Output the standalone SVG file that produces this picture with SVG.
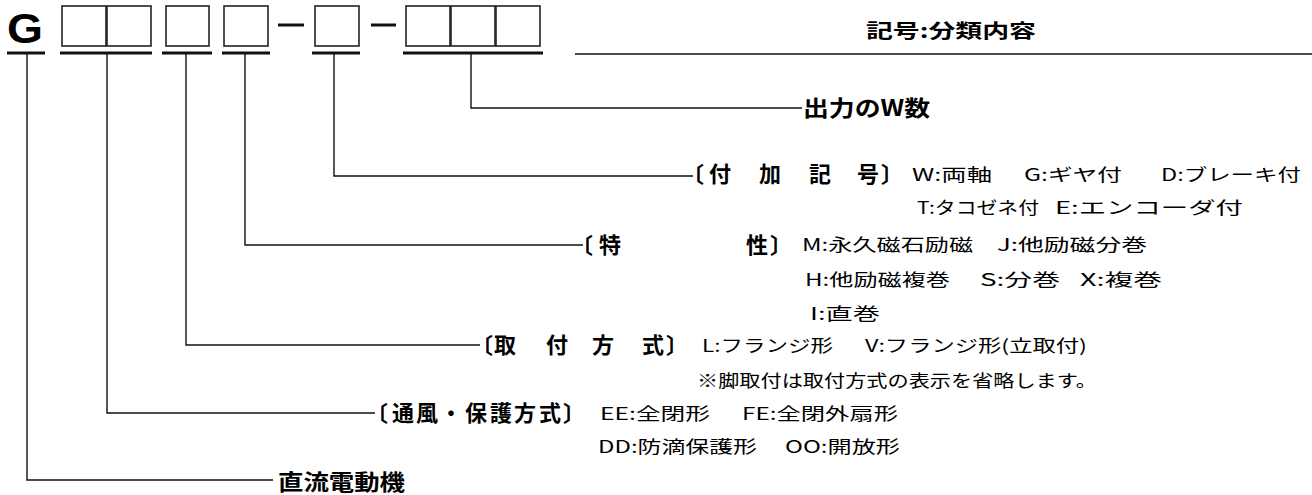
<svg xmlns="http://www.w3.org/2000/svg" width="1312" height="495" viewBox="0 0 1312 495">
<style>
.bx{fill:none;stroke:#222;stroke-width:1.6}
.ul{stroke:#111;stroke-width:3}
.cn{fill:none;stroke:#111;stroke-width:1.4}
.lb{font-family:"Noto Sans CJK JP","Noto Sans",sans-serif;font-weight:700;font-size:22px;fill:#000}
.ds{font-family:"Noto Sans CJK JP","Noto Sans",sans-serif;font-weight:400;font-size:17px;fill:#000}
</style>
<rect width="1312" height="495" fill="#fff"/>
<g id="code">
<text x="7" y="43" font-family="Liberation Sans,Arial,sans-serif" font-weight="700" font-size="42" textLength="36" lengthAdjust="spacingAndGlyphs">G</text>
<rect class="bx" x="62" y="6" width="44" height="40"/>
<rect class="bx" x="107" y="6" width="44" height="40"/>
<rect class="bx" x="166" y="6" width="43" height="40"/>
<rect class="bx" x="224" y="6" width="44" height="40"/>
<line class="ul" x1="278" y1="25" x2="304" y2="25"/>
<rect class="bx" x="315" y="6" width="44" height="40"/>
<line class="ul" x1="371" y1="25" x2="396" y2="25"/>
<rect class="bx" x="406" y="6" width="44" height="40"/>
<rect class="bx" x="451" y="6" width="44" height="40"/>
<rect class="bx" x="496" y="6" width="44" height="40"/>
<line class="ul" x1="7" y1="53" x2="45" y2="53"/>
<line class="ul" x1="60" y1="53" x2="152" y2="53"/>
<line class="ul" x1="162" y1="53" x2="212" y2="53"/>
<line class="ul" x1="222" y1="53" x2="270" y2="53"/>
<line class="ul" x1="312" y1="53" x2="360" y2="53"/>
<line class="ul" x1="403" y1="53" x2="543" y2="53"/>
</g>
<g id="header">
<line x1="575" y1="54" x2="1312" y2="54" stroke="#111" stroke-width="1.5"/>
<text x="866" y="38" font-family="Noto Sans CJK JP,sans-serif" font-weight="700" font-size="19" textLength="170" lengthAdjust="spacingAndGlyphs">記号:分類内容</text>
</g>
<g id="connectors">
<path class="cn" d="M27 54V480H273"/>
<path class="cn" d="M107 54V413H375"/>
<path class="cn" d="M186 54V345H480"/>
<path class="cn" d="M245 54V245H583"/>
<path class="cn" d="M334 54V176H693"/>
<path class="cn" d="M471 54V108H802"/>
</g>
<g id="node-output">
<text class="lb" x="803" y="116" font-size="21" textLength="127" lengthAdjust="spacingAndGlyphs">出力のW数</text>
</g>
<g id="node-additional">
<text class="lb" x="682 709 735 759 785 809 835 857 881" y="182">〔付 加 記 号〕</text>
<text class="ds" x="912" y="181" textLength="80" lengthAdjust="spacingAndGlyphs">W:両軸</text>
<text class="ds" x="1024" y="181" textLength="98" lengthAdjust="spacingAndGlyphs">G:ギヤ付</text>
<text class="ds" x="1161" y="181" textLength="140" lengthAdjust="spacingAndGlyphs">D:ブレーキ付</text>
<text class="ds" x="917" y="214" textLength="122" lengthAdjust="spacingAndGlyphs">T:タコゼネ付</text>
<text class="ds" x="1055" y="214" textLength="188" lengthAdjust="spacingAndGlyphs">E:エンコーダ付</text>
</g>
<g id="node-characteristic">
<text class="lb" x="571 599 700 746 770" y="253">〔特 性〕</text>
<text class="ds" x="802" y="251" textLength="171" lengthAdjust="spacingAndGlyphs">M:永久磁石励磁</text>
<text class="ds" x="997" y="251" textLength="150" lengthAdjust="spacingAndGlyphs">J:他励磁分巻</text>
<text class="ds" x="805" y="286" textLength="145" lengthAdjust="spacingAndGlyphs">H:他励磁複巻</text>
<text class="ds" x="980" y="286" textLength="80" lengthAdjust="spacingAndGlyphs">S:分巻</text>
<text class="ds" x="1080" y="286" textLength="82" lengthAdjust="spacingAndGlyphs">X:複巻</text>
<text class="ds" x="810" y="320" textLength="70" lengthAdjust="spacingAndGlyphs">I:直巻</text>
</g>
<g id="node-mounting">
<text class="lb" x="471 494 520 546 570 592 618 642 666" y="353">〔取 付 方 式〕</text>
<text class="ds" x="702" y="352" textLength="131" lengthAdjust="spacingAndGlyphs">L:フランジ形</text>
<text class="ds" x="865" y="352" textLength="222" lengthAdjust="spacingAndGlyphs">V:フランジ形(立取付)</text>
<text class="ds" x="697" y="387" textLength="400" lengthAdjust="spacingAndGlyphs">※脚取付は取付方式の表示を省略します。</text>
</g>
<g id="node-ventilation">
<text class="lb" x="366 392 416 440 465 490 514 539 563" y="421">〔通風・保護方式〕</text>
<text class="ds" x="600" y="420" textLength="110" lengthAdjust="spacingAndGlyphs">EE:全閉形</text>
<text class="ds" x="742" y="420" textLength="156" lengthAdjust="spacingAndGlyphs">FE:全閉外扇形</text>
<text class="ds" x="598" y="453" textLength="159" lengthAdjust="spacingAndGlyphs">DD:防滴保護形</text>
<text class="ds" x="785" y="453" textLength="115" lengthAdjust="spacingAndGlyphs">OO:開放形</text>
</g>
<g id="node-dc-motor">
<text class="lb" x="278" y="490" font-size="24" textLength="127" lengthAdjust="spacingAndGlyphs">直流電動機</text>
</g>
</svg>
